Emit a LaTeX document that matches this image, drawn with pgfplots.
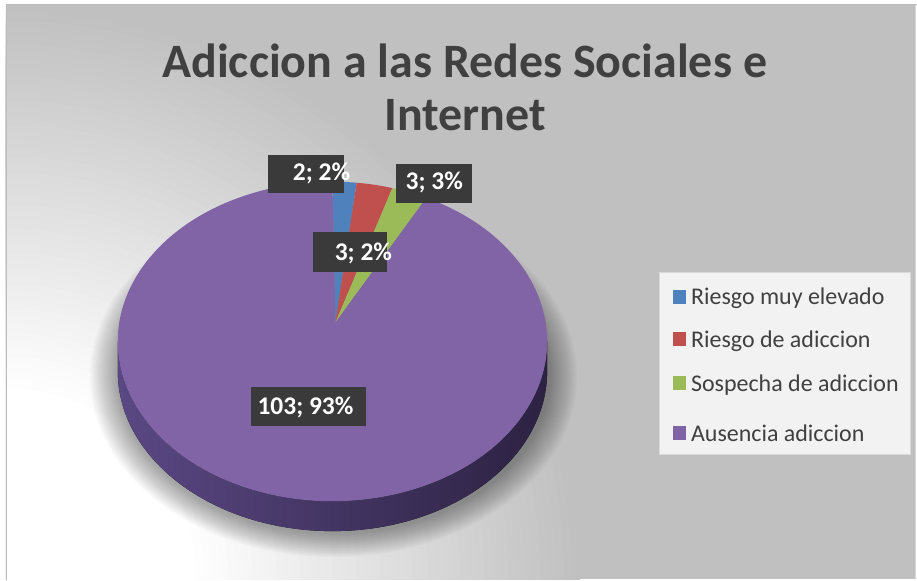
\documentclass[border=0pt]{standalone}
\usepackage{pgfplots}
\pgfplotsset{compat=1.18}
\usepackage{fontspec}
\setmainfont{Carlito}
\definecolor{cblue}{HTML}{4F81BD}
\definecolor{cred}{HTML}{C0504D}
\definecolor{cgreen}{HTML}{9BBB59}
\definecolor{cpurple}{HTML}{8064A6}
\definecolor{sideL}{HTML}{5A4884}
\definecolor{sideM}{HTML}{382B52}
\definecolor{sideR}{HTML}{2C2242}
\definecolor{txt}{HTML}{404040}
\definecolor{lblbox}{HTML}{3A3A3A}
\definecolor{bggray}{HTML}{C0C0C0}
\definecolor{legfill}{HTML}{F2F2F2}
\definecolor{legline}{HTML}{D9D9D9}
\definecolor{frame}{HTML}{BDBDBD}

% data: Riesgo muy elevado, Riesgo de adiccion, Sospecha de adiccion, Ausencia adiccion
\def\vA{2}\def\vB{3}\def\vC{3}\def\vD{103}
\pgfmathsetmacro\tot{\vA+\vB+\vC+\vD}
\pgfmathsetmacro\aA{90}
\pgfmathsetmacro\aB{\aA-\vA/\tot*360}
\pgfmathsetmacro\aC{\aB-\vB/\tot*360}
\pgfmathsetmacro\aD{\aC-\vC/\tot*360}
\pgfmathsetmacro\aE{\aD-\vD/\tot*360}
% pie geometry (picture units)
\def\cx{333}\def\cy{238}\def\rx{215}\def\ry{160}\def\ax{336}\def\ay{257}
\newcommand\slice[3]{%
  \fill[#3] (axis cs:\ax,\ay) -- (axis cs:{\cx+\rx*cos(#1)},{\cy+\ry*sin(#1)})
     arc[start angle=#1, end angle=#2, x radius=\rx pt, y radius=\ry pt] -- cycle;}
\newcommand\lblfont{\fontsize{25.5}{25.5}\selectfont\bfseries}
\newcommand\legfont{\fontsize{24}{24}\selectfont}

\begin{document}
\begin{tikzpicture}
% background (chart area gradient)
\begin{scope}[x=1pt,y=1pt]
\fill[white] (0,0) rectangle (917,580);
\clip (6,0) rectangle (917,576);
\fill[bggray] (6,0) rectangle (917,576);
\foreach \r in {575,567,...,190} {
  \pgfmathsetmacro\f{max(0,(\r-190)/385*100)}
  \fill[bggray!\f!white] (6,0) circle[radius=\r];
}
\end{scope}
\begin{axis}[x=1pt,y=1pt,xmin=0,xmax=917,ymin=0,ymax=580,hide axis,clip=false]
\draw[frame,line width=1pt] (axis cs:6.5,-1) -- (axis cs:6.5,575.5) -- (axis cs:918,575.5);
% shadow
\pgfplotsinvokeforeach{0,...,15}{
  \fill[black,opacity=0.022] (axis cs:334,203) ellipse[x radius={(244-1.8*#1)*1pt}, y radius={(181-1.5*#1)*1pt}];
}
% side wall
\fill[left color=sideL, middle color=sideM, right color=sideR]
  (axis cs:118,238) arc[start angle=180,end angle=360,x radius=\rx pt,y radius=\ry pt]
  -- ++(0pt,-30pt) arc[start angle=0,end angle=-180,x radius=\rx pt,y radius=\ry pt] -- cycle;
% slices
\slice{\aA}{\aB}{cblue}
\slice{\aB}{\aC}{cred}
\slice{\aC}{\aD}{cgreen}
\slice{\aD}{\aE}{cpurple}
% data labels
\fill[lblbox] (axis cs:268,387) rectangle (axis cs:345,425);
\node[white,font=\lblfont,inner sep=0] at (axis cs:322,406) {2; 2\%};
\fill[lblbox] (axis cs:397,377) rectangle (axis cs:473,416);
\node[white,font=\lblfont,inner sep=0] at (axis cs:435,397) {3; 3\%};
\fill[lblbox] (axis cs:314,308) rectangle (axis cs:388,348);
\node[white,font=\lblfont,inner sep=0] at (axis cs:364,326) {3; 2\%};
\fill[lblbox] (axis cs:251,153) rectangle (axis cs:367,192);
\node[white,font=\lblfont,inner sep=0] at (axis cs:306,172) {103; 93\%};
% title
\node[anchor=base,txt,font=\fontsize{48}{48}\selectfont\bfseries,inner sep=0] at (axis cs:465.5,502) {Adiccion a las Redes Sociales e};
\node[anchor=base,txt,font=\fontsize{48}{48}\selectfont\bfseries,inner sep=0] at (axis cs:466,449) {Internet};
% legend
\filldraw[fill=legfill,draw=legline] (axis cs:660,125) rectangle (axis cs:912,307);
\fill[cblue] (axis cs:674,276) rectangle (axis cs:687,290);
\node[anchor=base west,inner sep=0,txt,font=\legfont] at (axis cs:692,275) {Riesgo muy elevado};
\fill[cred] (axis cs:674,233) rectangle (axis cs:687,247);
\node[anchor=base west,inner sep=0,txt,font=\legfont] at (axis cs:692,232) {Riesgo de adiccion};
\fill[cgreen] (axis cs:674,189) rectangle (axis cs:687,203);
\node[anchor=base west,inner sep=0,txt,font=\legfont] at (axis cs:692,188) {Sospecha de adiccion};
\fill[cpurple] (axis cs:674,139) rectangle (axis cs:687,153);
\node[anchor=base west,inner sep=0,txt,font=\legfont] at (axis cs:692,138) {Ausencia adiccion};
\end{axis}
\end{tikzpicture}
\end{document}
